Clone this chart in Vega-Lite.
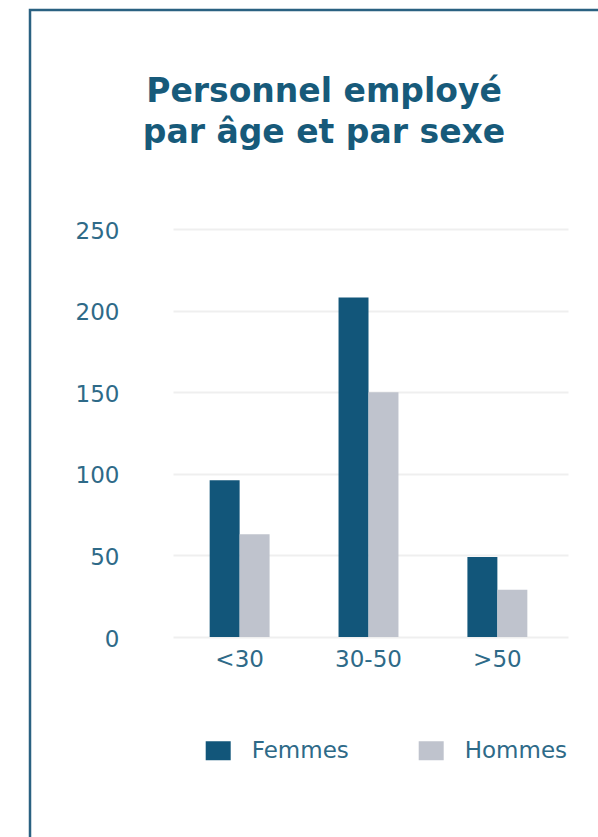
{
  "$schema": "https://vega.github.io/schema/vega-lite/v6.json",
  "width": 588,
  "height": 840,
  "autosize": {"type": "none"},
  "padding": {"left": 30, "top": 10, "right": 0, "bottom": 0},
  "background": "white",
  "title": {
    "text": ["Personnel employé", "par âge et par sexe"],
    "font": "DejaVu Sans",
    "fontSize": 33,
    "fontWeight": "bold",
    "color": "#175a7a",
    "anchor": "middle",
    "baseline": "alphabetic",
    "offset": -166,
    "lineHeight": 41
  },
  "data": {
    "values": [
      {"age": "<30", "sexe": "Femmes", "effectif": 96},
      {"age": "<30", "sexe": "Hommes", "effectif": 63},
      {"age": "30-50", "sexe": "Femmes", "effectif": 208},
      {"age": "30-50", "sexe": "Hommes", "effectif": 150},
      {"age": ">50", "sexe": "Femmes", "effectif": 49},
      {"age": ">50", "sexe": "Hommes", "effectif": 29}
    ]
  },
  "mark": {"type": "bar"},
  "encoding": {
    "x": {
      "field": "age",
      "type": "nominal",
      "sort": ["<30", "30-50", ">50"],
      "scale": {"range": [141, 536], "paddingInner": 0.535, "paddingOuter": 0.3},
      "axis": {
        "title": null,
        "orient": "bottom",
        "offset": -213,
        "domain": false,
        "ticks": false,
        "labelAngle": 0,
        "labelPadding": 11,
        "labelFont": "DejaVu Sans",
        "labelFontSize": 23,
        "labelColor": "#2e6a88"
      }
    },
    "xOffset": {
      "field": "sexe",
      "type": "nominal",
      "sort": ["Femmes", "Hommes"],
      "scale": {"paddingInner": 0, "paddingOuter": 0}
    },
    "y": {
      "field": "effectif",
      "type": "quantitative",
      "scale": {"domain": [0, 250], "range": [627, 219], "nice": false, "zero": true},
      "axis": {
        "title": null,
        "values": [0, 50, 100, 150, 200, 250],
        "offset": -538,
        "grid": false,
        "domain": false,
        "ticks": true,
        "tickSize": 395,
        "tickColor": "#efefef",
        "tickWidth": 2,
        "labelPadding": 54,
        "labelOffset": 2,
        "labelFont": "DejaVu Sans",
        "labelFontSize": 23,
        "labelColor": "#2e6a88"
      }
    },
    "color": {
      "field": "sexe",
      "type": "nominal",
      "scale": {"domain": ["Femmes", "Hommes"], "range": ["#12567a", "#bfc3cd"]},
      "legend": {
        "title": null,
        "orient": "none",
        "legendX": 175.7,
        "legendY": 728,
        "direction": "horizontal",
        "padding": 0,
        "symbolType": "M-1,-0.76H1V0.76H-1Z",
        "symbolSize": 625,
        "symbolStrokeWidth": 0,
        "labelFont": "DejaVu Sans",
        "labelFontSize": 23,
        "labelColor": "#2e6a88",
        "labelOffset": 21,
        "columnPadding": 69
      }
    }
  },
  "config": {"view": {"stroke": "#2a6181", "strokeWidth": 2.5}}
}
